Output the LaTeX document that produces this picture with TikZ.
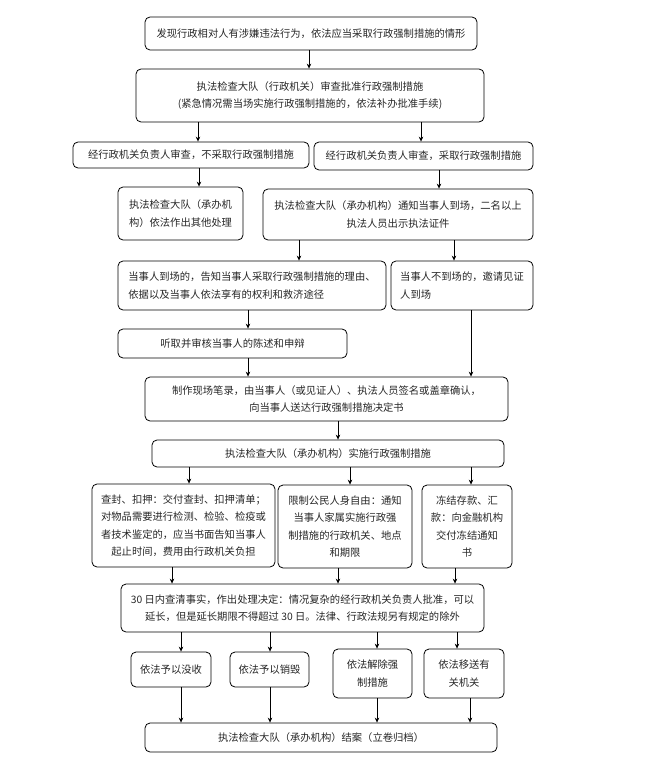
\documentclass[tikz,border=0pt]{standalone}
\usepackage{fontspec}
\newfontfamily\cjk{Noto Sans CJK SC}
\usetikzlibrary{arrows.meta}
\begin{document}
\begin{tikzpicture}[x=1pt,y=-1pt,
  box/.style={draw=black, line width=0.8pt, rounded corners=5pt, inner sep=0pt, align=center,
    font={\cjk\fontsize{10.3pt}{17.5pt}\selectfont}, text=black!85},
  arr/.style={line width=0.7pt, -{Stealth[length=5pt,width=4.5pt]}}]
\useasboundingbox (0,0) rectangle (670,762);
\newcommand{\bx}[6]{\node[box, minimum width=#4pt, minimum height=#5pt] (#1) at (#2,#3) {#6};}
\bx{B1}{311}{33.5}{332}{33}{发现行政相对人有涉嫌违法行为，依法应当采取行政强制措施的情形}
\bx{B2}{310}{95.5}{348}{53}{执法检查大队（行政机关）审查批准行政强制措施\\(紧急情况需当场实施行政强制措施的，依法补办批准手续)}
\bx{B3}{191}{155}{236}{26}{经行政机关负责人审查，不采取行政强制措施}
\bx{B4}{423.5}{156}{219}{28}{经行政机关负责人审查，采取行政强制措施}
\bx{B5}{180.5}{213.5}{125}{53}{执法检查大队（承办机\\构）依法作出其他处理}
\bx{B6}{398}{214.5}{270}{51}{执法检查大队（承办机构）通知当事人到场，二名以上\\执法人员出示执法证件}
\node[box, align=left, minimum width=268pt, minimum height=49pt] (B7) at (252,285.5) {当事人到场的，告知当事人采取行政强制措施的理由、\\依据以及当事人依法享有的权利和救济途径};
\node[box, align=left, minimum width=142pt, minimum height=49pt] (B8) at (462,285.5) {当事人不到场的，邀请见证\\人到场};
\bx{B9}{232.5}{343.5}{229}{29}{听取并审核当事人的陈述和申辩}
\bx{B10}{326.5}{399}{363}{44}{制作现场笔录，由当事人（或见证人）、执法人员签名或盖章确认，\\向当事人送达行政强制措施决定书}
\bx{B11}{328}{453.5}{352}{27}{执法检查大队（承办机构）实施行政强制措施}
\bx{B12}{183.5}{525.5}{183}{83}{查封、扣押：交付查封、扣押清单；\\对物品需要进行检测、检验、检疫或\\者技术鉴定的，应当书面告知当事人\\起止时间，费用由行政机关负担}
\bx{B13}{345}{526.5}{134}{83}{限制公民人身自由：通知\\当事人家属实施行政强\\制措施的行政机关、地点\\和期限}
\bx{B14}{467}{526.5}{90}{83}{冻结存款、汇\\款：向金融机构\\交付冻结通知\\书}
\bx{B15}{302.5}{608}{363}{48}{30 日内查清事实，作出处理决定：情况复杂的经行政机关负责人批准，可以\\延长，但是延长期限不得超过 30 日。法律、行政法规另有规定的除外}
\bx{B16}{171}{669.5}{80}{35}{依法予以没收}
\bx{B17}{269.5}{669.5}{79}{35}{依法予以销毁}
\bx{B18}{372.5}{673.5}{79}{49}{依法解除强\\制措施}
\bx{B19}{464}{673.5}{80}{49}{依法移送有\\关机关}
\bx{B20}{321}{737.5}{352}{29}{执法检查大队（承办机构）结案（立卷归档）}
\newcommand{\ar}[3]{\draw[arr] (#1.south -| #3,0) -- (#2.north -| #3,0);}
\ar{B1}{B2}{309}
\ar{B2}{B3}{198}
\ar{B2}{B4}{421}
\ar{B3}{B5}{199}
\ar{B4}{B6}{439}
\ar{B6}{B7}{299}
\ar{B6}{B8}{454}
\ar{B7}{B9}{248}
\ar{B9}{B10}{248}
\ar{B8}{B10}{471}
\ar{B10}{B11}{338}
\ar{B11}{B12}{189}
\ar{B11}{B13}{350}
\ar{B11}{B14}{471}
\ar{B12}{B15}{172}
\ar{B13}{B15}{338}
\ar{B14}{B15}{455}
\ar{B15}{B16}{181}
\ar{B15}{B17}{270}
\ar{B15}{B18}{377}
\ar{B15}{B19}{457}
\ar{B16}{B20}{181}
\ar{B17}{B20}{270}
\ar{B18}{B20}{377}
\ar{B19}{B20}{470}
\end{tikzpicture}
\end{document}
